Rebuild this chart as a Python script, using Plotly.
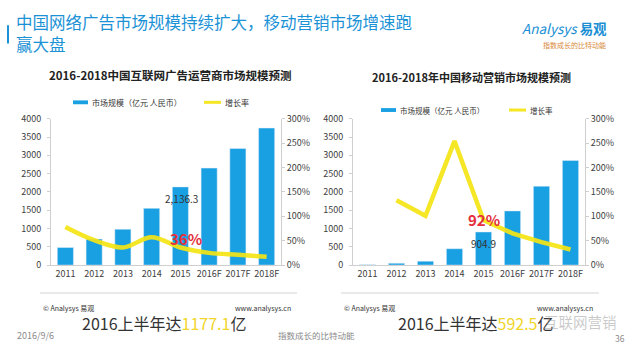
import plotly.graph_objects as go

W, H = 636, 351

# ---------------- data ----------------
years = ["2011", "2012", "2013", "2014", "2015", "2016F", "2017F", "2018F"]
ad_market = [480, 710, 980, 1550, 2136.3, 2650, 3185, 3745]            # 亿元
ad_growth = [0.78, 0.51, 0.36, 0.57, 0.36, 0.25, 0.21, 0.17]
mob_market = [10, 50, 105, 447, 904.9, 1480, 2157, 2860]               # 亿元
mob_growth = [None, 1.33, 1.01, 2.54, 0.92, 0.65, 0.47, 0.32]

left_title = "2016-2018中国互联网广告运营商市场规模预测"
right_title = "2016-2018年中国移动营销市场规模预测"
bar_name = "市场规模（亿元 人民币）"
line_name = "增长率"
ad_bar_label = "2,136.3"
mob_bar_label = "904.9"
ad_rate_label = "36%"
mob_rate_label = "92%"
label_year = "2015"

BLUE = "#19a0e3"
YELLOW = "rgba(244,228,20,0.92)"
RED = "#e3303c"
AX = "#cfcfcf"
TXT = "#404040"
FONT = "Noto Sans CJK SC"


def px(x):
    return x / W


def py(y):
    return 1 - y / H


fig = go.Figure()

fig.add_trace(go.Bar(x=years, y=ad_market, marker_color=BLUE, width=0.56,
                     xaxis="x", yaxis="y", showlegend=False))
fig.add_trace(go.Scatter(x=years, y=ad_growth, mode="lines",
                         line=dict(color=YELLOW, width=4.5, shape="spline", smoothing=1.0),
                         xaxis="x", yaxis="y2", showlegend=False))
fig.add_trace(go.Bar(x=years, y=mob_market, marker_color=BLUE, width=0.56,
                     xaxis="x2", yaxis="y3", showlegend=False))
fig.add_trace(go.Scatter(x=years, y=mob_growth, mode="lines",
                         line=dict(color=YELLOW, width=4.5),
                         xaxis="x2", yaxis="y4", showlegend=False))

ydom = [py(268), py(116)]
tickfont = dict(family=FONT, size=9, color=TXT)

xcommon = dict(type="category", range=[-0.5, len(years) - 0.5], showline=True,
               linecolor=AX, linewidth=1, ticks="", tickfont=tickfont, showgrid=False,
               fixedrange=True)
ycommon = dict(range=[0, 4000], dtick=500, showline=True, linecolor=AX, linewidth=1,
               ticks="outside", ticklen=3, tickcolor=AX, tickfont=tickfont,
               showgrid=False, zeroline=False, ticklabelstandoff=4)
y2common = dict(range=[0, 3], dtick=0.5, tickformat=".0%", showline=True, linecolor=AX,
                linewidth=1, ticks="outside", ticklen=3, tickcolor=AX, tickfont=tickfont,
                showgrid=False, zeroline=False, side="right")

fig.update_layout(
    width=W, height=H, margin=dict(l=0, r=0, t=0, b=0),
    paper_bgcolor="white", plot_bgcolor="rgba(0,0,0,0)",
    font=dict(family=FONT, color=TXT),
    xaxis=dict(domain=[px(51), px(281)], anchor="y", **xcommon),
    yaxis=dict(domain=ydom, anchor="x", **ycommon),
    yaxis2=dict(domain=ydom, anchor="x", overlaying="y", **y2common),
    xaxis2=dict(domain=[px(353), px(585)], anchor="y3", **xcommon),
    yaxis3=dict(domain=ydom, anchor="x2", **ycommon),
    yaxis4=dict(domain=ydom, anchor="x2", overlaying="y3", **y2common),
)

ann = []
shapes = []
ix = years.index(label_year)

# header
ann.append(dict(x=px(14), y=py(16), xref="paper", yref="paper", xanchor="left", yanchor="middle",
                text="中国网络广告市场规模持续扩大，移动营销市场增速跑", showarrow=False,
                font=dict(family=FONT, size=16.5, color="#1b92d6")))
ann.append(dict(x=px(14), y=py(38), xref="paper", yref="paper", xanchor="left", yanchor="middle",
                text="赢大盘", showarrow=False,
                font=dict(family=FONT, size=16.5, color="#1b92d6")))
shapes.append(dict(type="line", xref="paper", yref="paper", x0=px(8), x1=px(8), y0=py(19), y1=py(38),
                   line=dict(color="#1b92d6", width=2)))
ann.append(dict(x=px(520), y=py(22), xref="paper", yref="paper", xanchor="left", yanchor="middle",
                text="<i>Analysys</i> <b>易观</b>", showarrow=False,
                font=dict(family=FONT, size=13.5, color="#1a8fd4")))
ann.append(dict(x=px(574), y=py(39), xref="paper", yref="paper", xanchor="center", yanchor="middle",
                text="指数成长的比特动能", showarrow=False,
                font=dict(family=FONT, size=7, color="#d88a3a")))

# chart titles
ann.append(dict(x=px(170), y=py(71), xref="paper", yref="paper", xanchor="center", yanchor="middle",
                text="<b>" + left_title + "</b>", showarrow=False,
                font=dict(family=FONT, size=11.5, color="#222")))
ann.append(dict(x=px(471), y=py(73), xref="paper", yref="paper", xanchor="center", yanchor="middle",
                text="<b>" + right_title + "</b>", showarrow=False,
                font=dict(family=FONT, size=11, color="#222")))

# custom legends
for (bx, ly, lx, fs) in [(73, 99, 204, 8), (381, 107, 509, 7.5)]:
    shapes.append(dict(type="rect", xref="paper", yref="paper", x0=px(bx), x1=px(bx + 15),
                       y0=py(ly + 2), y1=py(ly - 2), fillcolor=BLUE, line=dict(width=0)))
    ann.append(dict(x=px(bx + 17), y=py(ly), xref="paper", yref="paper", xanchor="left",
                    yanchor="middle", text=bar_name, showarrow=False,
                    font=dict(family=FONT, size=fs, color="#333")))
    shapes.append(dict(type="line", xref="paper", yref="paper", x0=px(lx), x1=px(lx + 17),
                       y0=py(ly), y1=py(ly), line=dict(color=YELLOW, width=3)))
    ann.append(dict(x=px(lx + 19), y=py(ly), xref="paper", yref="paper", xanchor="left",
                    yanchor="middle", text=line_name, showarrow=False,
                    font=dict(family=FONT, size=fs, color="#333")))

# data labels (category index used for the x position)
ann.append(dict(x=ix, y=ad_market[ix], xref="x", yref="y", yanchor="middle", yshift=-12, xshift=1,
                text=ad_bar_label, showarrow=False, font=dict(family=FONT, size=10, color="#333")))
ann.append(dict(x=ix, y=ad_growth[ix], xref="x", yref="y2", yanchor="middle", yshift=9, xshift=6,
                text="<b>" + ad_rate_label + "</b>", showarrow=False,
                font=dict(family=FONT, size=15, color=RED)))
ann.append(dict(x=ix, y=mob_market[ix], xref="x2", yref="y3", yanchor="middle", yshift=-12,
                text=mob_bar_label, showarrow=False, font=dict(family=FONT, size=10, color="#333")))
ann.append(dict(x=ix, y=mob_growth[ix], xref="x2", yref="y4", yanchor="middle", yshift=1,
                text="<b>" + mob_rate_label + "</b>", showarrow=False,
                font=dict(family=FONT, size=15, color=RED)))

# footers
for (x0, x1) in [(40, 297), (341, 599)]:
    shapes.append(dict(type="line", xref="paper", yref="paper", x0=px(x0), x1=px(x1),
                       y0=py(297), y1=py(297), line=dict(color="#d4d4d4", width=1)))
    ann.append(dict(x=px(x0 + 1), y=py(313), xref="paper", yref="paper", xanchor="left",
                    yanchor="middle", text="© Analysys 易观", showarrow=False,
                    font=dict(family=FONT, size=7, color="#333")))
    ann.append(dict(x=px(x1 - 4), y=py(313), xref="paper", yref="paper", xanchor="right",
                    yanchor="middle", text="www.analysys.cn", showarrow=False,
                    font=dict(family=FONT, size=7, color="#333")))

ann.append(dict(x=px(80), y=py(328), xref="paper", yref="paper", xanchor="left", yanchor="middle",
                text="2016上半年达<span style='color:#f1d52a'>1177.1</span>亿", showarrow=False,
                font=dict(family=FONT, size=16, color="#333")))
ann.append(dict(x=px(396), y=py(328), xref="paper", yref="paper", xanchor="left", yanchor="middle",
                text="2016上半年达<span style='color:#f1d52a'>592.5</span>亿", showarrow=False,
                font=dict(family=FONT, size=16, color="#333")))
ann.append(dict(x=px(542), y=py(327), xref="paper", yref="paper", xanchor="left", yanchor="middle",
                text="互联网营销", showarrow=False,
                font=dict(family=FONT, size=14.5, color="rgba(150,150,150,0.5)")))
ann.append(dict(x=px(15), y=py(341), xref="paper", yref="paper", xanchor="left", yanchor="middle",
                text="2016/9/6", showarrow=False, font=dict(family=FONT, size=9, color="#8a8a8a")))
ann.append(dict(x=px(276), y=py(341), xref="paper", yref="paper", xanchor="left", yanchor="middle",
                text="指数成长的比特动能", showarrow=False, font=dict(family=FONT, size=8.5, color="#8a8a8a")))
ann.append(dict(x=px(620), y=py(344), xref="paper", yref="paper", xanchor="center", yanchor="middle",
                text="36", showarrow=False, font=dict(family=FONT, size=8.5, color="#8a8a8a")))

fig.update_layout(annotations=ann, shapes=shapes)
fig.write_html("out.html")
